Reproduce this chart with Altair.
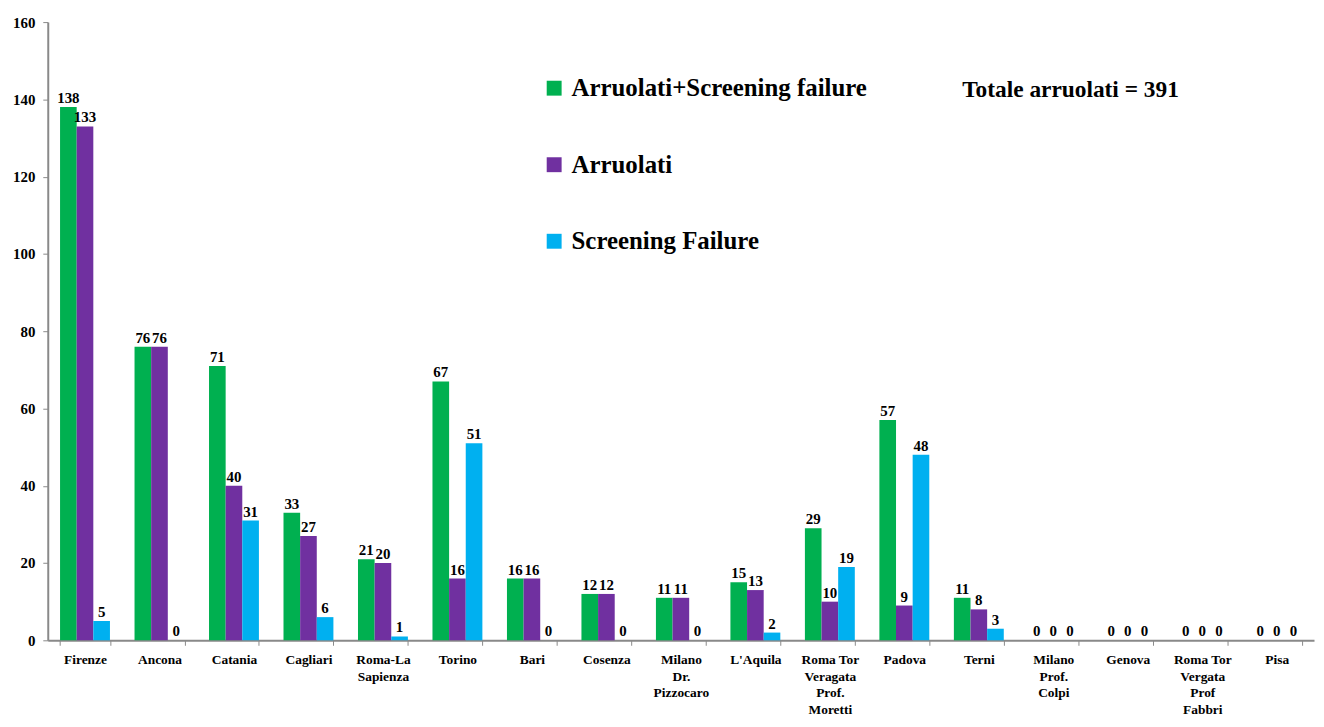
import altair as alt
import pandas as pd

centers = ["Firenze", "Ancona", "Catania", "Cagliari", "Roma-La|Sapienza", "Torino", "Bari",
           "Cosenza", "Milano|Dr.|Pizzocaro", "L'Aquila", "Roma Tor|Veragata|Prof.|Moretti",
           "Padova", "Terni", "Milano|Prof.|Colpi", "Genova", "Roma Tor|Vergata|Prof|Fabbri", "Pisa"]
series = ["Arruolati+Screening failure", "Arruolati", "Screening Failure"]
totale = [138, 76, 71, 33, 21, 67, 16, 12, 11, 15, 29, 57, 11, 0, 0, 0, 0]
arruolati = [133, 76, 40, 27, 20, 16, 16, 12, 11, 13, 10, 9, 8, 0, 0, 0, 0]
screening = [5, 0, 31, 6, 1, 51, 0, 0, 0, 2, 19, 48, 3, 0, 0, 0, 0]
colors = ["#00B050", "#7030A0", "#00B0F0"]
annotation = "Totale arruolati = 391"

rows = []
for i, c in enumerate(centers):
    for s, vals in zip(series, [totale, arruolati, screening]):
        rows.append({"centro": c, "serie": s, "valore": vals[i]})
df = pd.DataFrame(rows)

FONT = "Liberation Serif"

base = alt.Chart(df).encode(
    x=alt.X("centro:N", sort=centers,
            scale=alt.Scale(paddingInner=0.33, paddingOuter=0.165),
            axis=alt.Axis(title=None, labelAngle=0, tickBand="extent", tickSize=5,
                          labelPadding=7, labelFontSize=13.5, labelLineHeight=17,
                          labelExpr="split(datum.label, '|')", labelBaseline="top")),
    xOffset=alt.XOffset("serie:N", sort=series),
    y=alt.Y("valore:Q", scale=alt.Scale(domain=[0, 160]),
            axis=alt.Axis(title=None, values=list(range(0, 161, 20)), grid=False,
                          tickSize=5, labelPadding=8, labelFontSize=15)),
)

bars = base.mark_bar().encode(
    color=alt.Color("serie:N", sort=series,
                    scale=alt.Scale(domain=series, range=colors),
                    legend=alt.Legend(title=None, orient="none", legendX=497, legendY=54,
                                      labelFont=FONT, labelFontSize=25, labelFontWeight="bold",
                                      labelColor="black", symbolType="square", symbolSize=225,
                                      symbolStrokeWidth=0, rowPadding=51, labelOffset=5,
                                      labelLimit=600))
)

labels = base.mark_text(dy=-9, font=FONT, fontWeight="bold", fontSize=15,
                        color="black").encode(text="valore:Q")

note = alt.Chart(pd.DataFrame({"t": [annotation]})).mark_text(
    font=FONT, fontWeight="bold", fontSize=23.5, align="left", baseline="middle", color="black"
).encode(text="t:N", x=alt.value(920), y=alt.value(68))

chart = alt.layer(bars, labels, note).properties(
    width=1274, height=622,
    padding={"left": 40, "top": 12, "right": 2, "bottom": 77},
    autosize=alt.AutoSizeParams(type="none"),
).configure_view(stroke=None).configure_axis(
    domainColor="#898989", tickColor="#898989", labelColor="black",
    labelFont=FONT, labelFontWeight="bold", domainWidth=2
)

chart.save("out.html", embed_options={"renderer": "svg", "actions": False})
